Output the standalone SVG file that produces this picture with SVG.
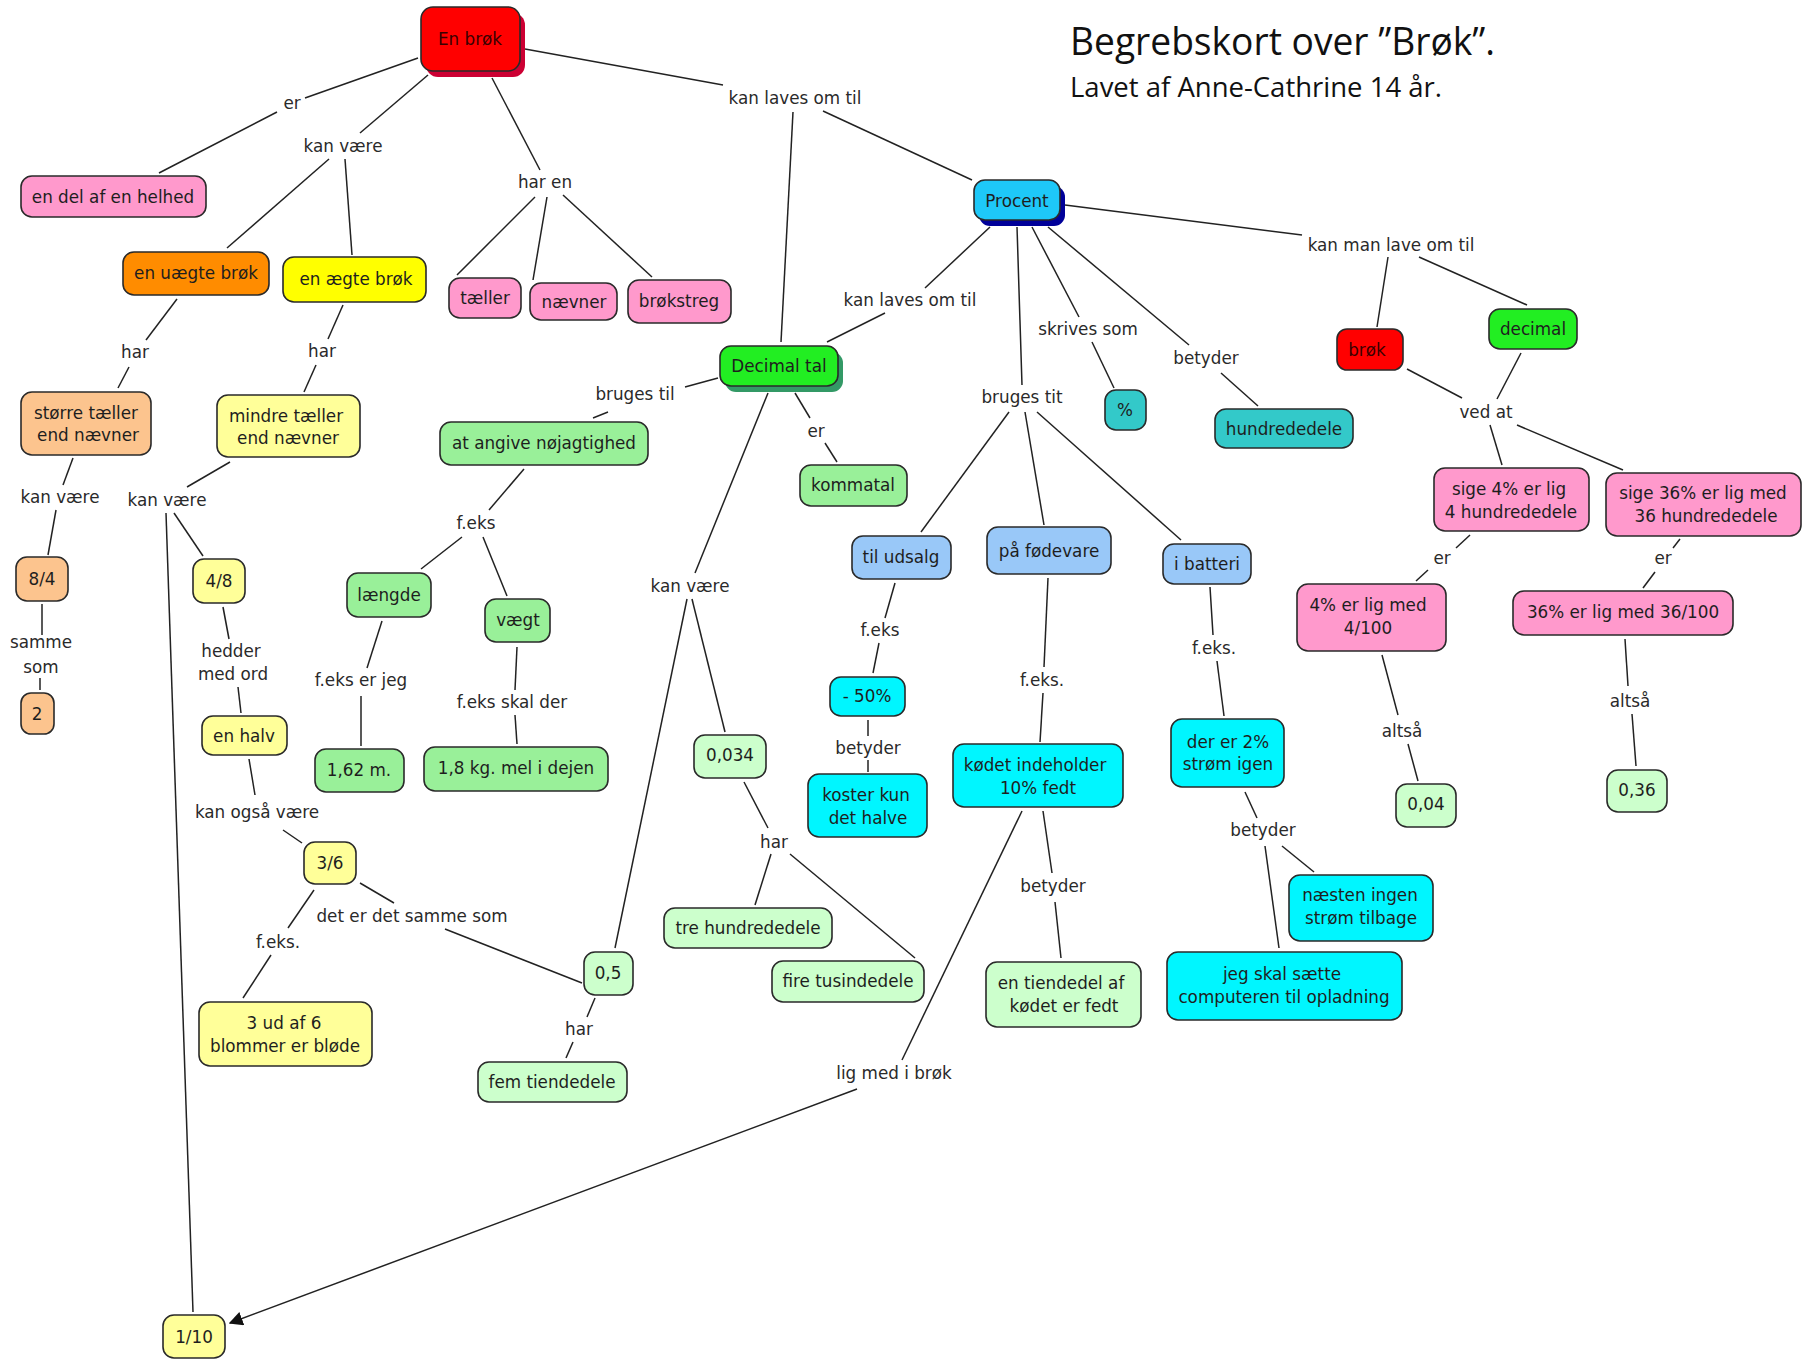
<svg xmlns="http://www.w3.org/2000/svg" width="1802" height="1361" viewBox="0 0 1802 1361">
<style>
.box{stroke:#2a2a2a;stroke-width:1.6}
.t{font-family:"DejaVu Sans",Verdana,sans-serif;font-size:16.8px;fill:#1e1e1e;text-anchor:middle;dominant-baseline:central}
.l{font-family:"DejaVu Sans",Verdana,sans-serif;font-size:16.8px;fill:#2a2a2a;text-anchor:middle;dominant-baseline:central}
.red{fill:#ff0000}.pink{fill:#ff99cc}.orange{fill:#ff8c00}.yellow{fill:#ffff00}.peach{fill:#fcc48e}
.ly{fill:#ffff99}.green{fill:#22ee22}.blue{fill:#1ec8f8}.teal{fill:#33c9c9}.lg{fill:#99f099}
.vlg{fill:#ccffcc}.lb{fill:#99c8f8}.cyan{fill:#00f6ff}
#connectors line{stroke:#222;stroke-width:1.5}
.title{font-family:"Open Sans","Liberation Sans",sans-serif;fill:#111}
</style>
<defs>
<marker id="arr" viewBox="0 0 10 10" refX="9" refY="5" markerWidth="14" markerHeight="14" markerUnits="userSpaceOnUse" orient="auto">
<path d="M0,0 L10,5 L0,10 z" fill="#111"/>
</marker>
</defs>
<rect width="1802" height="1361" fill="#fff"/>
<text class="title" x="1070" y="55" font-size="38" textLength="425" lengthAdjust="spacingAndGlyphs">Begrebskort over ”Brøk”.</text>
<text class="title" x="1070" y="97" font-size="27" textLength="372" lengthAdjust="spacingAndGlyphs">Lavet af Anne-Cathrine 14 år.</text>

<g id="connectors">
<line x1="418" y1="58" x2="305" y2="98"/>
<line x1="277" y1="112" x2="159" y2="173"/>
<line x1="428" y1="75" x2="360" y2="133"/>
<line x1="329" y1="159" x2="227" y2="248"/>
<line x1="345" y1="159" x2="352" y2="255"/>
<line x1="177" y1="299" x2="146" y2="340"/>
<line x1="129" y1="367" x2="118" y2="388"/>
<line x1="343" y1="305" x2="328" y2="339"/>
<line x1="316" y1="365" x2="304" y2="392"/>
<line x1="492" y1="78" x2="540" y2="170"/>
<line x1="535" y1="197" x2="457" y2="275"/>
<line x1="547" y1="197" x2="533" y2="280"/>
<line x1="563" y1="195" x2="652" y2="277"/>
<line x1="525" y1="49" x2="723" y2="85"/>
<line x1="793" y1="112" x2="781" y2="342"/>
<line x1="823" y1="111" x2="972" y2="180"/>
<line x1="990" y1="227" x2="925" y2="288"/>
<line x1="885" y1="313" x2="827" y2="342"/>
<line x1="718" y1="378" x2="685" y2="387"/>
<line x1="608" y1="412" x2="593" y2="418"/>
<line x1="795" y1="393" x2="810" y2="418"/>
<line x1="825" y1="443" x2="837" y2="462"/>
<line x1="768" y1="393" x2="695" y2="573"/>
<line x1="692" y1="599" x2="725" y2="732"/>
<line x1="687" y1="599" x2="615" y2="948"/>
<line x1="744" y1="782" x2="768" y2="828"/>
<line x1="771" y1="854" x2="755" y2="905"/>
<line x1="790" y1="854" x2="915" y2="958"/>
<line x1="1065" y1="205" x2="1302" y2="235"/>
<line x1="1388" y1="257" x2="1377" y2="327"/>
<line x1="1419" y1="257" x2="1527" y2="305"/>
<line x1="1407" y1="369" x2="1462" y2="398"/>
<line x1="1521" y1="353" x2="1497" y2="399"/>
<line x1="1490" y1="425" x2="1502" y2="465"/>
<line x1="1517" y1="425" x2="1623" y2="470"/>
<line x1="1017" y1="227" x2="1022" y2="385"/>
<line x1="1032" y1="227" x2="1079" y2="317"/>
<line x1="1092" y1="342" x2="1114" y2="388"/>
<line x1="1048" y1="227" x2="1189" y2="345"/>
<line x1="1221" y1="373" x2="1258" y2="406"/>
<line x1="1009" y1="412" x2="921" y2="532"/>
<line x1="1025" y1="412" x2="1044" y2="525"/>
<line x1="1037" y1="412" x2="1181" y2="540"/>
<line x1="73" y1="458" x2="63" y2="485"/>
<line x1="56" y1="510" x2="48" y2="555"/>
<line x1="42" y1="604" x2="42" y2="635"/>
<line x1="40" y1="678" x2="40" y2="690"/>
<line x1="230" y1="462" x2="187" y2="487"/>
<line x1="174" y1="513" x2="203" y2="556"/>
<line x1="166" y1="513" x2="193" y2="1312"/>
<line x1="223" y1="607" x2="229" y2="639"/>
<line x1="238" y1="687" x2="241" y2="713"/>
<line x1="249" y1="759" x2="255" y2="795"/>
<line x1="283" y1="830" x2="302" y2="843"/>
<line x1="314" y1="890" x2="288" y2="928"/>
<line x1="271" y1="955" x2="243" y2="998"/>
<line x1="360" y1="883" x2="394" y2="903"/>
<line x1="445" y1="929" x2="582" y2="983"/>
<line x1="595" y1="998" x2="587" y2="1017"/>
<line x1="573" y1="1042" x2="566" y2="1058"/>
<line x1="524" y1="469" x2="489" y2="510"/>
<line x1="462" y1="537" x2="421" y2="569"/>
<line x1="483" y1="537" x2="507" y2="596"/>
<line x1="382" y1="621" x2="367" y2="668"/>
<line x1="361" y1="696" x2="361" y2="746"/>
<line x1="517" y1="647" x2="515" y2="690"/>
<line x1="515" y1="715" x2="517" y2="744"/>
<line x1="895" y1="583" x2="885" y2="618"/>
<line x1="879" y1="643" x2="873" y2="673"/>
<line x1="868" y1="720" x2="868" y2="736"/>
<line x1="868" y1="760" x2="868" y2="772"/>
<line x1="1048" y1="578" x2="1044" y2="667"/>
<line x1="1043" y1="693" x2="1040" y2="742"/>
<line x1="1210" y1="587" x2="1213" y2="635"/>
<line x1="1217" y1="661" x2="1224" y2="716"/>
<line x1="1245" y1="792" x2="1257" y2="818"/>
<line x1="1265" y1="846" x2="1279" y2="948"/>
<line x1="1282" y1="846" x2="1314" y2="872"/>
<line x1="1043" y1="811" x2="1052" y2="873"/>
<line x1="1055" y1="902" x2="1061" y2="958"/>
<line x1="1022" y1="811" x2="902" y2="1060"/>
<line x1="857" y1="1089" x2="230" y2="1323" marker-end="url(#arr)"/>
<line x1="1470" y1="535" x2="1456" y2="548"/>
<line x1="1428" y1="570" x2="1416" y2="581"/>
<line x1="1680" y1="539" x2="1673" y2="548"/>
<line x1="1655" y1="572" x2="1643" y2="588"/>
<line x1="1382" y1="655" x2="1398" y2="715"/>
<line x1="1408" y1="744" x2="1418" y2="781"/>
<line x1="1625" y1="639" x2="1628" y2="686"/>
<line x1="1632" y1="714" x2="1636" y2="766"/>
</g>

<g id="link-labels">
<text class="l" x="292" y="103">er</text>
<text class="l" x="343" y="146">kan være</text>
<text class="l" x="135" y="352">har</text>
<text class="l" x="322" y="351">har</text>
<text class="l" x="545" y="182">har en</text>
<text class="l" x="795" y="98">kan laves om til</text>
<text class="l" x="910" y="300">kan laves om til</text>
<text class="l" x="635" y="394">bruges til</text>
<text class="l" x="816" y="431">er</text>
<text class="l" x="1391" y="245">kan man lave om til</text>
<text class="l" x="1022" y="397">bruges tit</text>
<text class="l" x="1088" y="329">skrives som</text>
<text class="l" x="1206" y="358">betyder</text>
<text class="l" x="1486" y="412">ved at</text>
<text class="l" x="60" y="497">kan være</text>
<text class="l" x="41" y="642">samme</text>
<text class="l" x="41" y="667">som</text>
<text class="l" x="167" y="500">kan være</text>
<text class="l" x="231" y="651">hedder</text>
<text class="l" x="233" y="674">med ord</text>
<text class="l" x="257" y="812">kan også være</text>
<text class="l" x="476" y="523">f.eks</text>
<text class="l" x="361" y="680">f.eks er jeg</text>
<text class="l" x="512" y="702">f.eks skal der</text>
<text class="l" x="690" y="586">kan være</text>
<text class="l" x="774" y="842">har</text>
<text class="l" x="880" y="630">f.eks</text>
<text class="l" x="868" y="748">betyder</text>
<text class="l" x="1042" y="680">f.eks.</text>
<text class="l" x="1214" y="648">f.eks.</text>
<text class="l" x="1263" y="830">betyder</text>
<text class="l" x="1053" y="886">betyder</text>
<text class="l" x="894" y="1073">lig med i brøk</text>
<text class="l" x="1442" y="558">er</text>
<text class="l" x="1663" y="558">er</text>
<text class="l" x="1402" y="731">altså</text>
<text class="l" x="1630" y="701">altså</text>
<text class="l" x="278" y="942">f.eks.</text>
<text class="l" x="412" y="916">det er det samme som</text>
<text class="l" x="579" y="1029">har</text>
</g>

<g id="n-en-brok"><rect x="426" y="13" width="99" height="64" rx="12" fill="#cc0033"/><rect class="box red" x="421" y="7" width="99" height="64" rx="12"/><text class="t" x="470" y="39" style="fill:#3a0000">En brøk</text></g>
<g id="n-del-helhed"><rect class="box pink" x="21" y="176" width="185" height="41" rx="11"/><text class="t" x="113" y="197">en del af en helhed</text></g>
<g id="n-uaegte"><rect class="box orange" x="123" y="252" width="146" height="43" rx="11"/><text class="t" x="196" y="273">en uægte brøk</text></g>
<g id="n-aegte"><rect class="box yellow" x="283" y="257" width="143" height="45" rx="11"/><text class="t" x="356" y="279">en ægte brøk</text></g>
<g id="n-storre"><rect class="box peach" x="21" y="392" width="130" height="63" rx="11"/><text class="t" x="86" y="413">større tæller</text><text class="t" x="88" y="435">end nævner</text></g>
<g id="n-mindre"><rect class="box ly" x="217" y="395" width="143" height="62" rx="11"/><text class="t" x="286" y="416">mindre tæller</text><text class="t" x="288" y="438">end nævner</text></g>
<g id="n-taeller"><rect class="box pink" x="449" y="278" width="72" height="40" rx="11"/><text class="t" x="485" y="298">tæller</text></g>
<g id="n-naevner"><rect class="box pink" x="530" y="283" width="87" height="37" rx="11"/><text class="t" x="574" y="302">nævner</text></g>
<g id="n-brokstreg"><rect class="box pink" x="628" y="280" width="103" height="43" rx="11"/><text class="t" x="679" y="301">brøkstreg</text></g>
<g id="n-decimaltal"><rect x="725" y="352" width="118" height="40" rx="11" fill="#339966"/><rect class="box green" x="720" y="346" width="118" height="40" rx="11"/><text class="t" x="779" y="366">Decimal tal</text></g>
<g id="n-procent"><rect x="979" y="186" width="86" height="40" rx="11" fill="#000099"/><rect class="box blue" x="974" y="180" width="86" height="40" rx="11"/><text class="t" x="1017" y="201">Procent</text></g>
<g id="n-brok2"><rect class="box red" x="1337" y="329" width="66" height="41" rx="10"/><text class="t" x="1367" y="350" style="fill:#3a0000">brøk</text></g>
<g id="n-decimal2"><rect class="box green" x="1489" y="309" width="88" height="40" rx="11"/><text class="t" x="1533" y="329">decimal</text></g>
<g id="n-angive"><rect class="box lg" x="440" y="422" width="208" height="43" rx="11"/><text class="t" x="544" y="443">at angive nøjagtighed</text></g>
<g id="n-kommatal"><rect class="box lg" x="800" y="465" width="107" height="41" rx="11"/><text class="t" x="853" y="485">kommatal</text></g>
<g id="n-pct"><rect class="box teal" x="1105" y="390" width="41" height="40" rx="11"/><text class="t" x="1125" y="410">%</text></g>
<g id="n-hundrededele"><rect class="box teal" x="1215" y="409" width="138" height="39" rx="11"/><text class="t" x="1284" y="429">hundrededele</text></g>
<g id="n-8-4"><rect class="box peach" x="16" y="557" width="52" height="44" rx="11"/><text class="t" x="42" y="579">8/4</text></g>
<g id="n-2"><rect class="box peach" x="21" y="693" width="33" height="41" rx="10"/><text class="t" x="37" y="714">2</text></g>
<g id="n-4-8"><rect class="box ly" x="193" y="559" width="52" height="44" rx="11"/><text class="t" x="219" y="581">4/8</text></g>
<g id="n-en-halv"><rect class="box ly" x="202" y="716" width="85" height="39" rx="11"/><text class="t" x="244" y="736">en halv</text></g>
<g id="n-3-6"><rect class="box ly" x="304" y="842" width="52" height="42" rx="11"/><text class="t" x="330" y="863">3/6</text></g>
<g id="n-3ud"><rect class="box ly" x="199" y="1002" width="173" height="64" rx="11"/><text class="t" x="284" y="1023">3 ud af 6</text><text class="t" x="285" y="1046">blommer er bløde</text></g>
<g id="n-1-10"><rect class="box ly" x="163" y="1315" width="62" height="43" rx="11"/><text class="t" x="194" y="1337">1/10</text></g>
<g id="n-laengde"><rect class="box lg" x="347" y="573" width="84" height="44" rx="11"/><text class="t" x="389" y="595">længde</text></g>
<g id="n-vaegt"><rect class="box lg" x="485" y="599" width="65" height="43" rx="11"/><text class="t" x="518" y="620">vægt</text></g>
<g id="n-162"><rect class="box lg" x="315" y="749" width="89" height="43" rx="11"/><text class="t" x="359" y="770">1,62 m.</text></g>
<g id="n-18kg"><rect class="box lg" x="424" y="747" width="184" height="44" rx="11"/><text class="t" x="516" y="768">1,8 kg. mel i dejen</text></g>
<g id="n-0034"><rect class="box vlg" x="694" y="735" width="72" height="43" rx="11"/><text class="t" x="730" y="755">0,034</text></g>
<g id="n-05"><rect class="box vlg" x="584" y="952" width="49" height="43" rx="11"/><text class="t" x="608" y="973">0,5</text></g>
<g id="n-femtiende"><rect class="box vlg" x="478" y="1062" width="149" height="40" rx="11"/><text class="t" x="552" y="1082">fem tiendedele</text></g>
<g id="n-trehundrede"><rect class="box vlg" x="664" y="908" width="168" height="40" rx="11"/><text class="t" x="748" y="928">tre hundrededele</text></g>
<g id="n-firetusind"><rect class="box vlg" x="772" y="961" width="152" height="41" rx="11"/><text class="t" x="848" y="981">fire tusindedele</text></g>
<g id="n-tiludsalg"><rect class="box lb" x="852" y="536" width="99" height="43" rx="11"/><text class="t" x="901" y="557">til udsalg</text></g>
<g id="n-foedevare"><rect class="box lb" x="987" y="527" width="124" height="47" rx="11"/><text class="t" x="1049" y="551">på fødevare</text></g>
<g id="n-batteri"><rect class="box lb" x="1163" y="544" width="88" height="40" rx="11"/><text class="t" x="1207" y="564">i batteri</text></g>
<g id="n-minus50"><rect class="box cyan" x="830" y="677" width="75" height="39" rx="11"/><text class="t" x="867" y="696">- 50%</text></g>
<g id="n-koster"><rect class="box cyan" x="808" y="774" width="119" height="63" rx="11"/><text class="t" x="866" y="795">koster kun</text><text class="t" x="868" y="818">det halve</text></g>
<g id="n-kodet"><rect class="box cyan" x="953" y="744" width="170" height="63" rx="11"/><text class="t" x="1035" y="765">kødet indeholder</text><text class="t" x="1038" y="788">10% fedt</text></g>
<g id="n-tiendedel"><rect class="box vlg" x="986" y="962" width="155" height="65" rx="11"/><text class="t" x="1061" y="983">en tiendedel af</text><text class="t" x="1064" y="1006">kødet er fedt</text></g>
<g id="n-der2"><rect class="box cyan" x="1171" y="719" width="113" height="68" rx="11"/><text class="t" x="1228" y="742">der er 2%</text><text class="t" x="1228" y="764">strøm igen</text></g>
<g id="n-naesten"><rect class="box cyan" x="1289" y="875" width="144" height="66" rx="11"/><text class="t" x="1360" y="895">næsten ingen</text><text class="t" x="1361" y="918">strøm tilbage</text></g>
<g id="n-jegskal"><rect class="box cyan" x="1167" y="952" width="235" height="68" rx="11"/><text class="t" x="1282" y="974">jeg skal sætte</text><text class="t" x="1284" y="997">computeren til opladning</text></g>
<g id="n-sige4"><rect class="box pink" x="1434" y="468" width="155" height="63" rx="11"/><text class="t" x="1509" y="489">sige 4% er lig</text><text class="t" x="1511" y="512">4 hundrededele</text></g>
<g id="n-sige36"><rect class="box pink" x="1606" y="473" width="195" height="63" rx="11"/><text class="t" x="1703" y="493">sige 36% er lig med</text><text class="t" x="1706" y="516">36 hundrededele</text></g>
<g id="n-4pct"><rect class="box pink" x="1297" y="584" width="149" height="67" rx="11"/><text class="t" x="1368" y="605">4% er lig med</text><text class="t" x="1368" y="628">4/100</text></g>
<g id="n-36pct"><rect class="box pink" x="1513" y="591" width="220" height="44" rx="11"/><text class="t" x="1623" y="612">36% er lig med 36/100</text></g>
<g id="n-004"><rect class="box vlg" x="1396" y="784" width="60" height="43" rx="11"/><text class="t" x="1426" y="804">0,04</text></g>
<g id="n-036"><rect class="box vlg" x="1607" y="770" width="60" height="42" rx="11"/><text class="t" x="1637" y="790">0,36</text></g>
</svg>
